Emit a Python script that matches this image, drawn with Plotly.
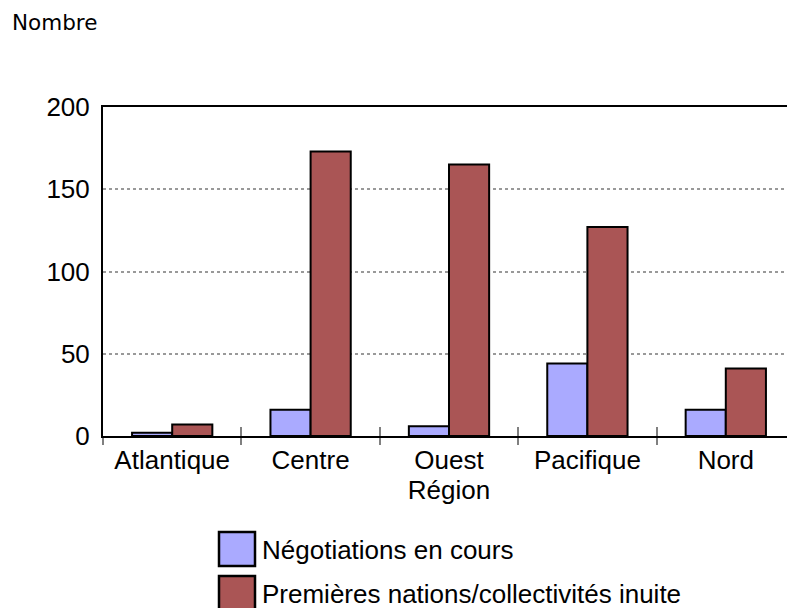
import plotly.graph_objects as go

categories = ["Atlantique", "Centre", "Ouest", "Pacifique", "Nord"]
series_names = ["Négotiations en cours", "Premières nations/collectivités inuite"]
negotiations = [2, 16, 6, 44, 16]
premieres = [7, 173, 165, 127, 41]
y_ticks = [0, 50, 100, 150, 200]
colors = ["#AAAAFF", "#AA5555"]

OFF = 8  # page body margin
W, H = 795 - OFF, 608 - OFF
L, R, T, B = 103 - OFF, 0, 107 - OFF, 172
PW, PH = W - L - R, H - T - B

def px(x):
    return (x - OFF - L) / PW

def py(y):
    return (H - B - (y - OFF)) / PH

FONT = "Liberation Sans, Arial, sans-serif"
FS = 26

fig = go.Figure()
for name, vals, col in zip(series_names, [negotiations, premieres], colors):
    fig.add_trace(go.Bar(
        x=categories, y=vals, name=name,
        marker=dict(color=col, line=dict(color="black", width=2)),
        showlegend=False,
    ))

fig.update_layout(
    width=W, height=H,
    margin=dict(l=L, r=R, t=T, b=B, pad=0),
    paper_bgcolor="white", plot_bgcolor="white",
    barmode="group", bargap=0.42, bargroupgap=0,
    font=dict(family=FONT, size=FS, color="black"),
    xaxis=dict(
        type="category", range=[-0.5, 4.5],
        showline=True, linecolor="black", linewidth=2, mirror=True,
        ticks="outside", tickson="boundaries", ticklen=7, tickwidth=1.5, tickcolor="#808080",
        showgrid=False,
        tickfont=dict(family=FONT, size=FS, color="black"),
        title=dict(text="Région", standoff=0, font=dict(family=FONT, size=FS, color="black")),
    ),
    xaxis2=dict(
        overlaying="x", anchor="y", side="bottom", type="linear",
        range=[-0.5, 4.5], tickvals=[-0.5, 0.5, 1.5, 2.5, 3.5, 4.5],
        ticks="inside", ticklen=9, tickwidth=1.5, tickcolor="#808080",
        showticklabels=False, showgrid=False, showline=False, zeroline=False,
    ),
    yaxis=dict(
        range=[0, 200], tickvals=y_ticks,
        showline=True, linecolor="black", linewidth=2,
        ticks="", ticklabelstandoff=6,
        showgrid=True, gridcolor="#999999", gridwidth=1.5, griddash="dot",
        zeroline=False,
        tickfont=dict(family=FONT, size=FS, color="black"),
    ),
)

# invisible trace to activate xaxis2
fig.add_trace(go.Scatter(x=[0], y=[0], xaxis="x2", yaxis="y", mode="markers",
                         marker=dict(opacity=0), showlegend=False, hoverinfo="skip"))

# Legend drawn manually
box_tops = [532, 576]
for i, (name, col) in enumerate(zip(series_names, colors)):
    y0 = box_tops[i]
    fig.add_shape(type="rect", xref="paper", yref="paper",
                  x0=px(219), x1=px(255), y0=py(y0 + 34), y1=py(y0),
                  fillcolor=col, line=dict(color="black", width=2.5), layer="above")
    fig.add_annotation(xref="paper", yref="paper", x=px(260), y=py(y0 + 18),
                       text=name, showarrow=False, xanchor="left", yanchor="middle",
                       font=dict(family=FONT, size=FS, color="black"))

fig.add_annotation(xref="paper", yref="paper", x=px(10), y=py(22),
                   text="Nombre", showarrow=False, xanchor="left", yanchor="middle",
                   font=dict(family="DejaVu Sans, sans-serif", size=21.5, color="black"))

fig.write_html("out.html")
